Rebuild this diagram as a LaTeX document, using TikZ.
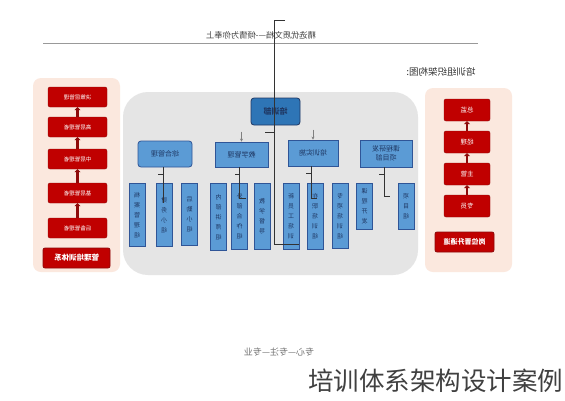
\documentclass[tikz,border=0pt]{standalone}
\usepackage{fontspec}
\setmainfont{Noto Sans CJK SC}
\usetikzlibrary{arrows.meta}

\definecolor{peach}{HTML}{FBE8DE}
\definecolor{panel}{HTML}{E5E5E5}
\definecolor{redbox}{HTML}{C00000}
\definecolor{redline}{HTML}{8E0A0A}
\definecolor{leafblue}{HTML}{5B9BD5}
\definecolor{blueline}{HTML}{2F5597}
\definecolor{topblue}{HTML}{2E75B6}
\definecolor{navy}{HTML}{1F3864}

\tikzset{
  mirrored/.style={xscale=-1},
  redstep/.style={mirrored, draw=redline, fill=redbox, rounded corners=2pt,
    minimum height=20pt, text=white, font=\fontsize{5.5}{6}\selectfont, inner sep=1pt},
  redlabel/.style={mirrored, draw=redline, line width=0.8pt, fill=redbox, rounded corners=2pt,
    minimum height=20pt, text=white, font=\bfseries\fontsize{7.5}{8}\selectfont, inner sep=1pt},
  uparrow/.style={redline, line width=2.5pt, -{Triangle[length=3pt,width=6pt]}},
  unitbox/.style={mirrored, draw=blueline, line width=0.8pt, fill=leafblue, minimum width=52pt,
    minimum height=26pt, text=navy, font=\fontsize{7}{9}\selectfont, align=center, inner sep=1pt},
  leafbox/.style={mirrored, draw=blueline, line width=0.8pt, fill=leafblue, minimum width=16pt,
    anchor=north, text=navy, font=\fontsize{6}{10}\selectfont, align=center, inner sep=1pt},
  link/.style={draw=black!80, line width=0.7pt},
  feed/.style={draw=gray, line width=0.6pt, -{Stealth[length=3pt,width=3pt]}}
}

\begin{document}
\begin{tikzpicture}[x=1pt, y=-1pt]
        \useasboundingbox[fill=white] (0,0) rectangle (565,400);

        % header
        \node[mirrored, text=black!75, font=\fontsize{8.3}{9}\selectfont] (title) at (261,35) {精选优质文档----倾情为你奉上};
        \draw[black!40, line width=0.5pt] (43,43) -- (478,43);
        \node[mirrored, text=black!80, font=\fontsize{9.5}{10}\selectfont] (orgtitle) at (441,72) {培训组织架构图:};

        % background panels
        \fill[peach, rounded corners=8pt] (33,78) rectangle (120,272);
        \fill[peach, rounded corners=8pt] (425,88) rectangle (512,272);
        \fill[panel, rounded corners=25pt] (123,92) rectangle (418,275);

        % left column
        \node[redstep, minimum width=59pt] (m1) at (77.5,97) {决策层管理};
        \node[redstep, minimum width=59pt] (m2) at (77.5,127) {高层管理者};
        \node[redstep, minimum width=59pt] (m3) at (77.5,159) {中层管理者};
        \node[redstep, minimum width=59pt] (m4) at (77.5,193) {基层管理者};
        \node[redstep, minimum width=59pt] (m5) at (77.5,228) {后备管理者};
        \node[redlabel, minimum width=67pt] (mlabel) at (76.5,258) {管理培训体系};

        \foreach \lo/\hi in {m5/m4,m4/m3,m3/m2,m2/m1}
        \draw[uparrow] (\lo.north) -- (\hi.south);

        % right column
        \node[redstep, minimum width=46pt, minimum height=22pt, font=\fontsize{6.5}{7}\selectfont] (r1) at (467,110) {总监};
        \node[redstep, minimum width=46pt, minimum height=22pt, font=\fontsize{6.5}{7}\selectfont] (r2) at (467,142) {经理};
        \node[redstep, minimum width=46pt, minimum height=22pt, font=\fontsize{6.5}{7}\selectfont] (r3) at (467,174) {主管};
        \node[redstep, minimum width=46pt, minimum height=22pt, font=\fontsize{6.5}{7}\selectfont] (r4) at (467,206) {专员};
        \node[redlabel, minimum width=59pt, font=\bfseries\fontsize{7}{8}\selectfont] (rlabel) at (464.5,242) {岗位晋升通道};

        \foreach \lo/\hi in {r4/r3,r3/r2,r2/r1}
        \draw[uparrow] (\lo.north) -- (\hi.south);

        % training department
        \node[unitbox, fill=topblue, draw=navy, rounded corners=3pt, minimum width=49pt, minimum height=27pt,
              font=\bfseries\fontsize{8}{9}\selectfont] (dept) at (275.5,111.5) {培训部};

        \node[unitbox, rounded corners=3pt, minimum width=54pt] (uA) at (165,154) {综合管理};
        \node[unitbox, minimum width=53pt, minimum height=25pt] (uB) at (241.5,154.5) {教学管理};
        \node[unitbox, minimum width=50pt] (uC) at (313,153) {培训实施};
        \node[unitbox, minimum height=27pt] (uD) at (386,153.5) {课程研发\\项目部};

        % leaves
        \node[leafbox, minimum height=63pt] (leaf1) at (137,183) {档\\案\\管\\理\\组};
        \node[leafbox, minimum height=63pt] (leaf2) at (164,183) {财\\务\\小\\组};
        \node[leafbox, minimum height=62pt] (leaf3) at (189.5,183) {后\\勤\\小\\组};
        \node[leafbox, minimum height=67pt] (leaf4) at (218.5,183) {内\\部\\讲\\师\\组};
        \node[leafbox, minimum height=66pt] (leaf5) at (239.5,183) {外\\部\\合\\作\\组};
        \node[leafbox, minimum height=66pt] (leaf6) at (262,183) {教\\学\\督\\导};
        \node[leafbox, minimum height=66pt] (leaf7) at (291,183) {新\\员\\工\\培\\训};
        \node[leafbox, minimum height=66pt] (leaf8) at (315,183) {在\\职\\培\\训\\组};
        \node[leafbox, minimum height=65pt] (leaf9) at (340,183) {专\\项\\培\\训\\组};
        \node[leafbox, minimum height=46pt] (leaf10) at (364.5,183) {课\\程\\开\\发};
        \node[leafbox, minimum height=46pt] (leaf11) at (406,183) {项\\目\\组};

        % connectors
        \coordinate (mtop) at (274,20);
        \coordinate (mtick) at (285,20);
        \coordinate (mflag) at (265,132);
        \draw[link] (mtick) -- (mtop) |- ([yshift=5pt]leaf7.south west);
        \draw[link] (mflag) -- (mflag -| mtop);

        \draw[link] ([xshift=-2pt]uA.south) -- ++(0,36);
        \foreach \u/\d in {uB/31,uC/32,uD/29}
        \draw[link] ([xshift=-2pt]\u.south) -- ++(0,\d) -- ++(6,0);
        \foreach \u in {uA,uB,uC,uD}
        \draw[link] ([xshift=-2pt,yshift=-7pt]\u.south) -- ++(-5,0);

        \draw[feed] ([yshift=10pt]uB.north) -- (uB.north);
        \draw[feed] ([yshift=10pt]uC.north) -- (uC.north);

        % footer
        \node[mirrored, text=black!55, font=\fontsize{9}{10}\selectfont] (motto) at (279,352) {专心---专注---专业};
        \node[text=black!75, font=\fontsize{25.5}{28}\selectfont, anchor=east] (caption) at (567,381) {培训体系架构设计案例};
    \end{tikzpicture}
\end{document}
